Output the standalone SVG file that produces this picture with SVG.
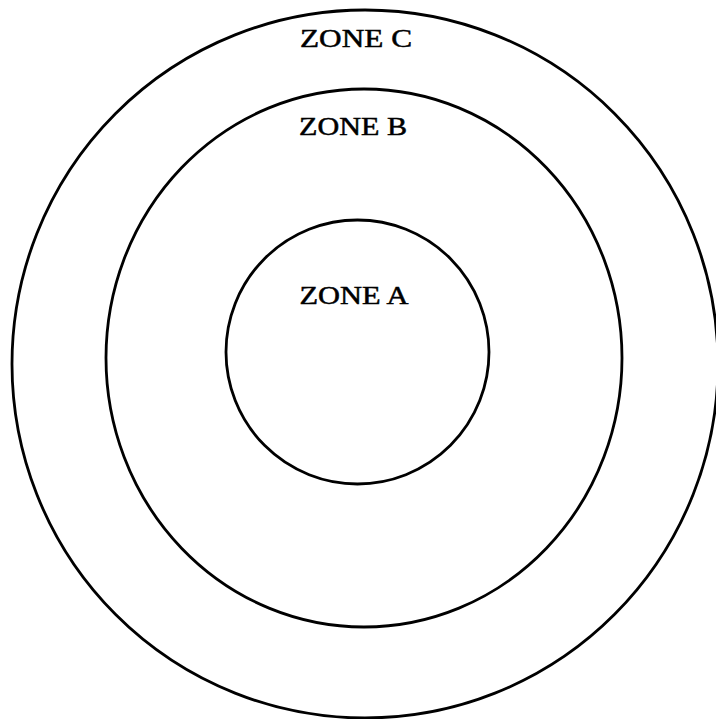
<svg xmlns="http://www.w3.org/2000/svg" width="716" height="719" viewBox="0 0 716 719">
<style>
.zone{fill:none;stroke:#000;stroke-width:2.8}
.lbl{font-family:"Liberation Serif","DejaVu Serif",serif;font-size:26px;fill:#000;stroke:#000;stroke-width:0.5;text-anchor:middle}
</style>
<rect width="716" height="719" fill="#fff"/>
<g id="zone-c"><ellipse class="zone" cx="365" cy="364" rx="353" ry="354"/><text class="lbl" x="356" y="47" textLength="112" lengthAdjust="spacingAndGlyphs">ZONE C</text></g>
<g id="zone-b"><ellipse class="zone" cx="364" cy="358" rx="258" ry="269"/><text class="lbl" x="353" y="135" textLength="108" lengthAdjust="spacingAndGlyphs">ZONE B</text></g>
<g id="zone-a"><ellipse class="zone" cx="357.5" cy="352" rx="131.5" ry="132"/><text class="lbl" x="354" y="304" textLength="109" lengthAdjust="spacingAndGlyphs">ZONE A</text></g>
<g id="connectors"></g>
</svg>
